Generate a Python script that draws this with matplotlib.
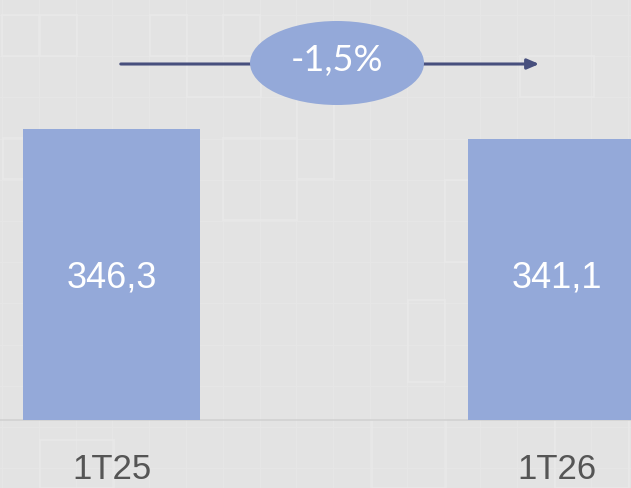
import matplotlib
matplotlib.use("Agg")
import matplotlib.pyplot as plt
from matplotlib.patches import Ellipse, Rectangle

categories = ["1T25", "1T26"]
values = [346.3, 341.1]
value_labels = ["346,3", "341,1"]
change_label = "-1,5%"

BASE = 185.7  # axis does not start at zero
BAR_COLOR = "#94a9d9"
BG_COLOR = "#e3e3e3"
ARROW_COLOR = "#474f7d"

W, H = 631, 488
fig = plt.figure(figsize=(W / 100, H / 100), dpi=100)
fig.patch.set_facecolor(BG_COLOR)

# background texture: faint grid with a few brighter tiles (pixel coords)
bg = fig.add_axes([0, 0, 1, 1])
bg.set_xlim(0, W)
bg.set_ylim(H, 0)
bg.axis("off")
gx = [2 + 36.8 * k for k in range(18)]
gy = [15 + 41.2 * k for k in range(12)]
for xv in gx:
    bg.axvline(xv, color="#e6e6e6", linewidth=1, zorder=0)
for yv in gy:
    bg.axhline(yv, color="#e6e6e6", linewidth=1, zorder=0)
tiles = [(2, 15, 37, 41), (40, 15, 37, 41), (150, 15, 37, 41), (223, 15, 37, 41),
         (187, 56, 74, 41), (3, 138, 70, 41), (223, 138, 74, 82), (297, 97, 37, 82),
         (520, 56, 74, 41), (445, 180, 37, 82), (40, 440, 74, 48), (372, 420, 74, 68),
         (555, 420, 74, 68), (150, 300, 37, 82), (408, 300, 37, 82)]
for (x0, y0, w, h) in tiles:
    bg.add_patch(Rectangle((x0, y0), w, h, fill=False, edgecolor="#e9e9e9",
                           linewidth=1.2, zorder=0))

ax = fig.add_axes([0, 0, 1, 1])
ax.patch.set_alpha(0)
ax.set_xlim(-0.2506, 1.1674)
ax.set_ylim(148.1, 417.7)
ax.axis("off")

# baseline
ax.axhline(BASE, color="#d2d2d2", linewidth=1.2, zorder=1)

x = list(range(len(categories)))
ax.bar(x, [v - BASE for v in values], bottom=BASE, width=0.398,
       color=BAR_COLOR, zorder=2)

LABEL_Y = 264.2
for xi, lab in zip(x, value_labels):
    ax.text(xi, LABEL_Y, lab, ha="center", va="center",
            color="white", fontsize=26, family="Liberation Sans", zorder=3)

for xi, cat in zip(x, categories):
    ax.text(xi, 153.0, cat, ha="center", va="baseline",
            color="#555555", fontsize=25, family="Liberation Sans", zorder=3)

# change arrow with ellipse badge
trans = fig.transFigure
ax.annotate("", xy=(542 / W, 1 - 64 / H), xytext=(118 / W, 1 - 64 / H),
            xycoords=trans, textcoords=trans,
            arrowprops=dict(arrowstyle="-|>,head_length=0.7,head_width=0.3",
                            color=ARROW_COLOR, linewidth=2.2), zorder=3)
ell = Ellipse((337 / W, 1 - 63 / H), 174 / W, 84 / H, transform=trans,
              facecolor=BAR_COLOR, edgecolor="none", zorder=4)
ax.add_patch(ell)
ax.text(337 / W, 1 - 61 / H, change_label, transform=trans, ha="center",
        va="center", color="white", fontsize=26, family="Lato", zorder=5)

fig.savefig("out.png", dpi=100, facecolor=BG_COLOR)
